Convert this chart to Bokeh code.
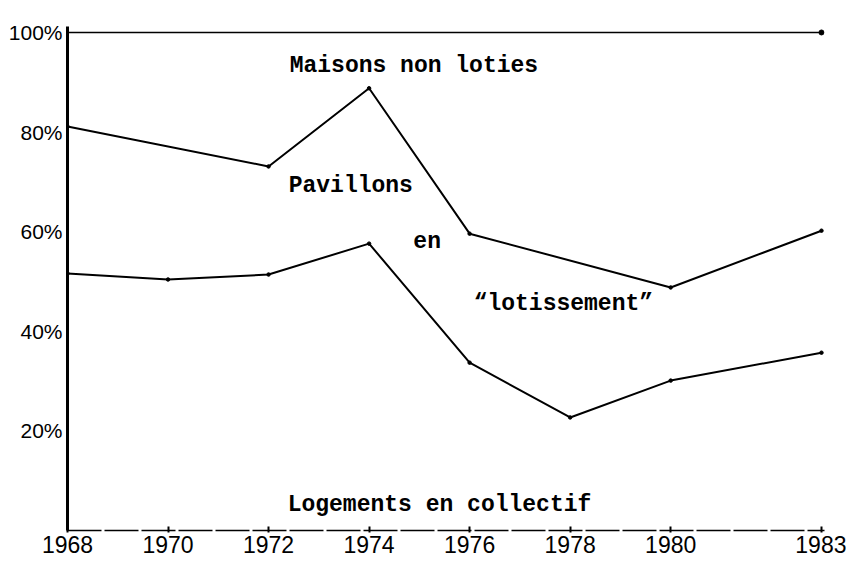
from bokeh.plotting import figure
from bokeh.models import Range1d, FixedTicker, PrintfTickFormatter, Label
from bokeh.embed import file_html
from bokeh.resources import INLINE

# ---- data (shares of new dwellings, %) ----
top_years = [1968, 1983]
top_share = [100, 100]

upper_years = [1968, 1972, 1974, 1976, 1980, 1983]
upper_share = [81.1, 73.1, 88.8, 59.6, 48.8, 60.2]   # boundary maisons non loties / pavillons

lower_years = [1968, 1970, 1972, 1974, 1976, 1978, 1980, 1983]
lower_share = [51.6, 50.4, 51.4, 57.6, 33.7, 22.7, 30.1, 35.7]  # boundary pavillons / collectif

x_ticks = [1968, 1970, 1972, 1974, 1976, 1978, 1980, 1983]
y_ticks = [20, 40, 60, 80, 100]

zone_labels = ["Maisons non loties", "Pavillons", "en", "“lotissement”", "Logements en collectif"]

p = figure(width=846, height=562, output_backend="svg", toolbar_location=None,
           x_range=Range1d(1968, 1983.06), y_range=Range1d(0, 101.2),
           min_border_left=67, min_border_right=22, min_border_top=26, min_border_bottom=32)
p.outline_line_color = None
p.xgrid.visible = False
p.ygrid.visible = False
p.background_fill_color = "white"

# axes
p.xaxis.ticker = FixedTicker(ticks=x_ticks)
p.xaxis.minor_tick_line_color = None
p.xaxis.major_tick_in = 4
p.xaxis.major_tick_out = 2
p.xaxis.major_tick_line_width = 2
p.xaxis.major_tick_line_color = "black"
p.xaxis.axis_line_color = "black"
p.xaxis.axis_line_width = 1.6
p.xaxis.axis_line_dash = "34 3"
p.xaxis.major_label_standoff = 3
p.xaxis.major_label_text_font = "Liberation Sans"
p.xaxis.major_label_text_font_size = "23px"
p.xaxis.major_label_text_color = "black"

p.yaxis.ticker = FixedTicker(ticks=y_ticks)
p.yaxis.formatter = PrintfTickFormatter(format="%d%%")
p.yaxis.minor_tick_line_color = None
p.yaxis.major_tick_in = 0
p.yaxis.major_tick_out = 0
p.yaxis.axis_line_color = "black"
p.yaxis.axis_line_width = 3
p.yaxis.major_label_standoff = 5
p.yaxis.major_label_text_font = "Liberation Sans"
p.yaxis.major_label_text_font_size = "21px"
p.yaxis.major_label_text_color = "black"

# lines
p.line(top_years, top_share, line_color="black", line_width=1.6)
p.scatter(top_years[-1:], top_share[-1:], size=5, color="black")
p.line(upper_years, upper_share, line_color="black", line_width=2)
p.scatter(upper_years, upper_share, size=3.5, color="black")
p.line(lower_years, lower_share, line_color="black", line_width=2)
p.scatter(lower_years, lower_share, size=3.5, color="black")

# zone labels (typewriter style)
label_pos = [(1972.42, 93.3), (1972.40, 69.1), (1974.88, 58.0), (1976.08, 45.5), (1972.38, 5.1)]
for txt, (lx, ly) in zip(zone_labels, label_pos):
    p.add_layout(Label(x=lx, y=ly, text=txt, text_font="Liberation Mono",
                       text_font_style="bold", text_font_size="23px",
                       text_baseline="middle", text_align="left", text_color="black"))

open("out.html", "w").write(file_html(p, INLINE))
